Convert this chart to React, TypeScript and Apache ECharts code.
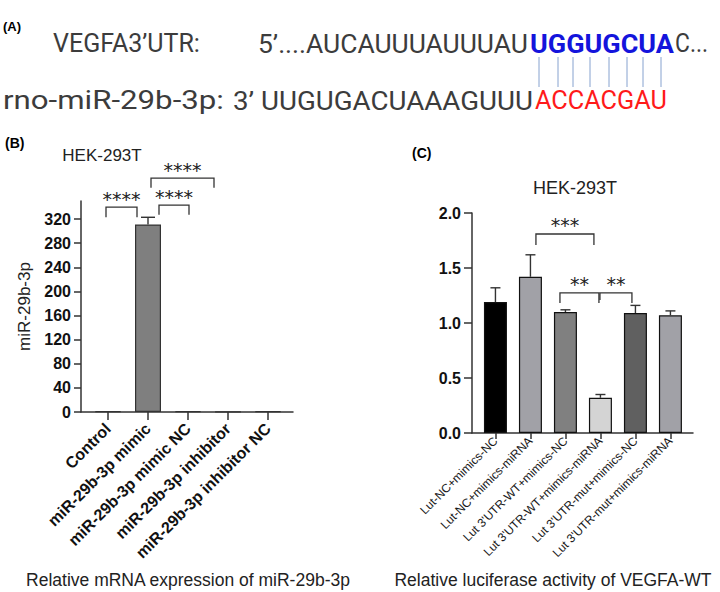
import React, { useEffect, useRef } from 'react';
import * as echarts from 'echarts';

// ---------- Panel A: sequences ----------
const utrLabel = "VEGFA3\u2019UTR:";
const utrPrefix = "5\u2019....AUCAUUUAUUUAU";
const utrSeed = "UGGUGCUA";
const utrSuffix = "C...";
const mirLabel = "rno-miR-29b-3p:";
const mirPrefix = "3\u2019 UUGUGACUAAAGUUU";
const mirSeed = "ACCACGAU";

// ---------- Panel B ----------
const catsB = ['Control', 'miR-29b-3p mimic', 'miR-29b-3p mimic NC', 'miR-29b-3p inhibitor', 'miR-29b-3p inhibitor NC'];
const valsB = [1.0, 311, 1.2, 0.4, 1.0];
const errB = [0, 12, 0, 0, 0];
const ticksB = [0, 40, 80, 120, 160, 200, 240, 280, 320];
// brackets: [left x, right x, bracket y, left leg end y, right leg end y]
const sigB = [
  [-0.05, 0.725, 340, 323, 323],
  [1.275, 2.025, 343, 327, 327],
  [1.075, 2.65, 388, 372, 372],
];
const sigLabelsB = ['****', '****', '****'];

// ---------- Panel C ----------
const catsC = ['Lut-NC+mimics-NC', 'Lut-NC+mimics-miRNA', "Lut 3'UTR-WT+mimics-NC", "Lut 3'UTR-WT+mimics-miRNA", "Lut 3'UTR-mut+mimics-NC", "Lut 3'UTR-mut+mimics-miRNA"];
const valsC = [1.19, 1.42, 1.10, 0.32, 1.09, 1.07];
const errC = [0.13, 0.20, 0.02, 0.03, 0.07, 0.04];
const sigC = [
  [1.157, 2.814, 1.809, 1.709, 1.709],
  [1.843, 2.957, 1.273, 1.182, 1.182],
  [2.986, 3.9, 1.273, 1.209, 1.182],
];
const sigLabelsC = ['***', '**', '**'];

const colorsC = ['#000000', '#a1a1a7', '#808080', '#d4d4d4', '#606060', '#a1a1a7'];
const FONT = 'Liberation Sans, Arial, sans-serif';
const AXIS = '#333333';

function errRender(cap: number) {
  return (params: any, api: any) => {
    const e = api.value(2);
    if (!(e > 0)) return { type: 'group', children: [] };
    const x = api.value(0);
    const v = api.value(1);
    const p0 = api.coord([x, v]);
    const p1 = api.coord([x, v + e]);
    const st = { stroke: AXIS, lineWidth: 1.4 };
    return {
      type: 'group',
      children: [
        { type: 'line', shape: { x1: p0[0], y1: p0[1], x2: p1[0], y2: p1[1] }, style: st },
        { type: 'line', shape: { x1: p1[0] - cap, y1: p1[1], x2: p1[0] + cap, y2: p1[1] }, style: st },
      ],
    };
  };
}

function sigRender(labels: string[], fontSize: number, textOffset: number) {
  return (params: any, api: any) => {
    const x1 = api.value(0), x2 = api.value(1), y = api.value(2), l1 = api.value(3), l2 = api.value(4);
    const a = api.coord([x1, l1]);
    const b = api.coord([x1, y]);
    const c = api.coord([x2, y]);
    const d = api.coord([x2, l2]);
    return {
      type: 'group',
      children: [
        { type: 'polyline', shape: { points: [a, b, c, d] }, style: { stroke: AXIS, lineWidth: 1.3, fill: 'none' } },
        {
          type: 'text',
          x: (b[0] + c[0]) / 2,
          y: b[1] - textOffset,
          style: {
            text: labels[params.dataIndex],
            fill: '#222',
            fontSize,
            fontFamily: 'DejaVu Sans',
            align: 'center',
            verticalAlign: 'middle',
            textAlign: 'center',
            textVerticalAlign: 'middle',
          },
        },
      ],
    };
  };
}

export default function App() {
  const ref = useRef<HTMLDivElement>(null);
  useEffect(() => {
    if (!ref.current) return;
    const chart = echarts.init(ref.current, null, { renderer: 'svg' });
    const seqFamily = 'Roboto';
    const seqSize = 25;
    const seqColor = '#3c3c3c';
    const pairX = [539, 558, 573, 590, 609, 627, 643, 661];

    const canvas = document.createElement('canvas');
    const ctx = canvas.getContext('2d');
    const seqText = (text: string, x: number, y: number, w: number, color: string, bold = false) => {
      let sx = 1;
      if (ctx) {
        ctx.font = `${bold ? 'bold ' : ''}${seqSize}px ${seqFamily}`;
        const mw = ctx.measureText(text).width;
        if (mw > 0) sx = w / mw;
      }
      return {
        type: 'text', x, y, scaleX: sx,
        style: {
          text, fontSize: seqSize, fontFamily: seqFamily, fontWeight: bold ? 'bold' : 'normal',
          fill: color, verticalAlign: 'middle',
        },
      };
    };

    const graphic: any[] = [
      { type: 'text', x: 3, y: 26, style: { text: '(A)', font: `bold 13px ${FONT}`, fill: '#000', verticalAlign: 'middle' } },
      seqText(utrLabel, 53, 44, 147, seqColor),
      seqText(utrPrefix, 258, 44, 270, seqColor),
      seqText(utrSeed, 530, 44, 144, '#1414dc', true),
      seqText(utrSuffix, 675, 44, 33, seqColor),
      seqText(mirLabel, 3, 101, 221, seqColor),
      seqText(mirPrefix, 233, 101, 300, seqColor),
      seqText(mirSeed, 535, 101, 132, '#ff1a1a'),
      ...pairX.map((x) => ({ type: 'line', shape: { x1: x, y1: 57, x2: x, y2: 87 }, style: { stroke: '#86a2cf', lineWidth: 1 } })),
      { type: 'text', x: 5, y: 143, style: { text: '(B)', font: `bold 14px ${FONT}`, fill: '#000', verticalAlign: 'middle' } },
      { type: 'text', x: 102, y: 155, style: { text: 'HEK-293T', fontSize: 17, fontFamily: FONT, fill: '#222', align: 'center', verticalAlign: 'middle' } },
      { type: 'text', x: 412, y: 153, style: { text: '(C)', font: `bold 14px ${FONT}`, fill: '#000', verticalAlign: 'middle' } },
      { type: 'text', x: 575, y: 188, style: { text: 'HEK-293T', fontSize: 18, fontFamily: FONT, fill: '#222', align: 'center', verticalAlign: 'middle' } },
      { type: 'text', x: 188, y: 580, style: { text: 'Relative mRNA expression of miR-29b-3p', fontSize: 17.5, fontFamily: FONT, fill: '#222', align: 'center', verticalAlign: 'middle' } },
      { type: 'text', x: 553, y: 580, style: { text: 'Relative luciferase activity of VEGFA-WT', fontSize: 17.5, fontFamily: FONT, fill: '#222', align: 'center', verticalAlign: 'middle' } },
    ];

    const axisLine = { show: true, onZero: false, lineStyle: { color: AXIS, width: 1.5 } };
    const axisTick = (len: number, extra: any = {}) => ({ show: true, length: len, lineStyle: { color: AXIS, width: 1.5 }, ...extra });

    chart.setOption({
      animation: false,
      backgroundColor: '#ffffff',
      graphic,
      grid: [
        { left: 81, top: 201, width: 212, height: 211, outerBoundsMode: 'none', containLabel: false },
        { left: 472, top: 213, width: 221, height: 220, outerBoundsMode: 'none', containLabel: false },
      ],
      xAxis: [
        {
          type: 'value', gridIndex: 0, min: -0.675, max: 4.625,
          axisLine, splitLine: { show: false },
          axisTick: axisTick(8, { customValues: [0, 1, 2, 3, 4] }),
          axisLabel: {
            customValues: [0, 1, 2, 3, 4],
            formatter: (v: number) => catsB[Math.round(v)] ?? '',
            rotate: 45, margin: 14, fontSize: 16, fontWeight: 'bold', fontFamily: FONT, color: '#111',
          },
        },
        {
          type: 'value', gridIndex: 1, min: -0.67, max: 5.645,
          axisLine, splitLine: { show: false },
          axisTick: axisTick(6, { customValues: [0, 1, 2, 3, 4, 5] }),
          axisLabel: {
            customValues: [0, 1, 2, 3, 4, 5],
            formatter: (v: number) => catsC[Math.round(v)] ?? '',
            rotate: 45, margin: 6, fontSize: 12, fontFamily: FONT, color: '#1a1a1a',
          },
        },
      ],
      yAxis: [
        {
          type: 'value', gridIndex: 0, min: 0, max: 350,
          axisLine, splitLine: { show: false },
          axisTick: axisTick(7, { customValues: ticksB }),
          axisLabel: { customValues: ticksB, margin: 10, fontSize: 16, fontWeight: 'bold', fontFamily: FONT, color: '#111' },
          name: 'miR-29b-3p', nameLocation: 'middle', nameGap: 48, nameRotate: 90,
          nameTextStyle: { fontSize: 17, fontFamily: FONT, color: '#222' },
        },
        {
          type: 'value', gridIndex: 1, min: 0, max: 2, interval: 0.5,
          axisLine, splitLine: { show: false },
          axisTick: axisTick(8),
          axisLabel: { formatter: (v: number) => v.toFixed(1), margin: 11, fontSize: 16, fontWeight: 'bold', fontFamily: FONT, color: '#111' },
        },
      ],
      series: [
        {
          type: 'bar', xAxisIndex: 0, yAxisIndex: 0, barWidth: 26,
          data: valsB.map((v, i) => [i, v]),
          itemStyle: { color: '#7f7f7f', borderColor: AXIS, borderWidth: 1.2 },
          z: 2,
        },
        {
          type: 'custom', xAxisIndex: 0, yAxisIndex: 0,
          data: valsB.map((v, i) => [i, v, errB[i]]),
          renderItem: errRender(7), z: 3,
        },
        {
          type: 'custom', xAxisIndex: 0, yAxisIndex: 0, clip: false,
          data: sigB,
          renderItem: sigRender(sigLabelsB, 19, 8), z: 3,
        },
        {
          type: 'bar', xAxisIndex: 1, yAxisIndex: 1, barWidth: 23,
          data: valsC.map((v, i) => ({ value: [i, v], itemStyle: { color: colorsC[i] } })),
          itemStyle: { borderColor: '#111', borderWidth: 1.2 },
          z: 2,
        },
        {
          type: 'custom', xAxisIndex: 1, yAxisIndex: 1,
          data: valsC.map((v, i) => [i, v, errC[i]]),
          renderItem: errRender(5), z: 3,
        },
        {
          type: 'custom', xAxisIndex: 1, yAxisIndex: 1, clip: false,
          data: sigC,
          renderItem: sigRender(sigLabelsC, 19, 9), z: 3,
        },
      ],
    });
    return () => chart.dispose();
  }, []);
  return <div ref={ref} style={{ position: 'fixed', left: 0, top: 0, width: 720, height: 592 }} />;
}
